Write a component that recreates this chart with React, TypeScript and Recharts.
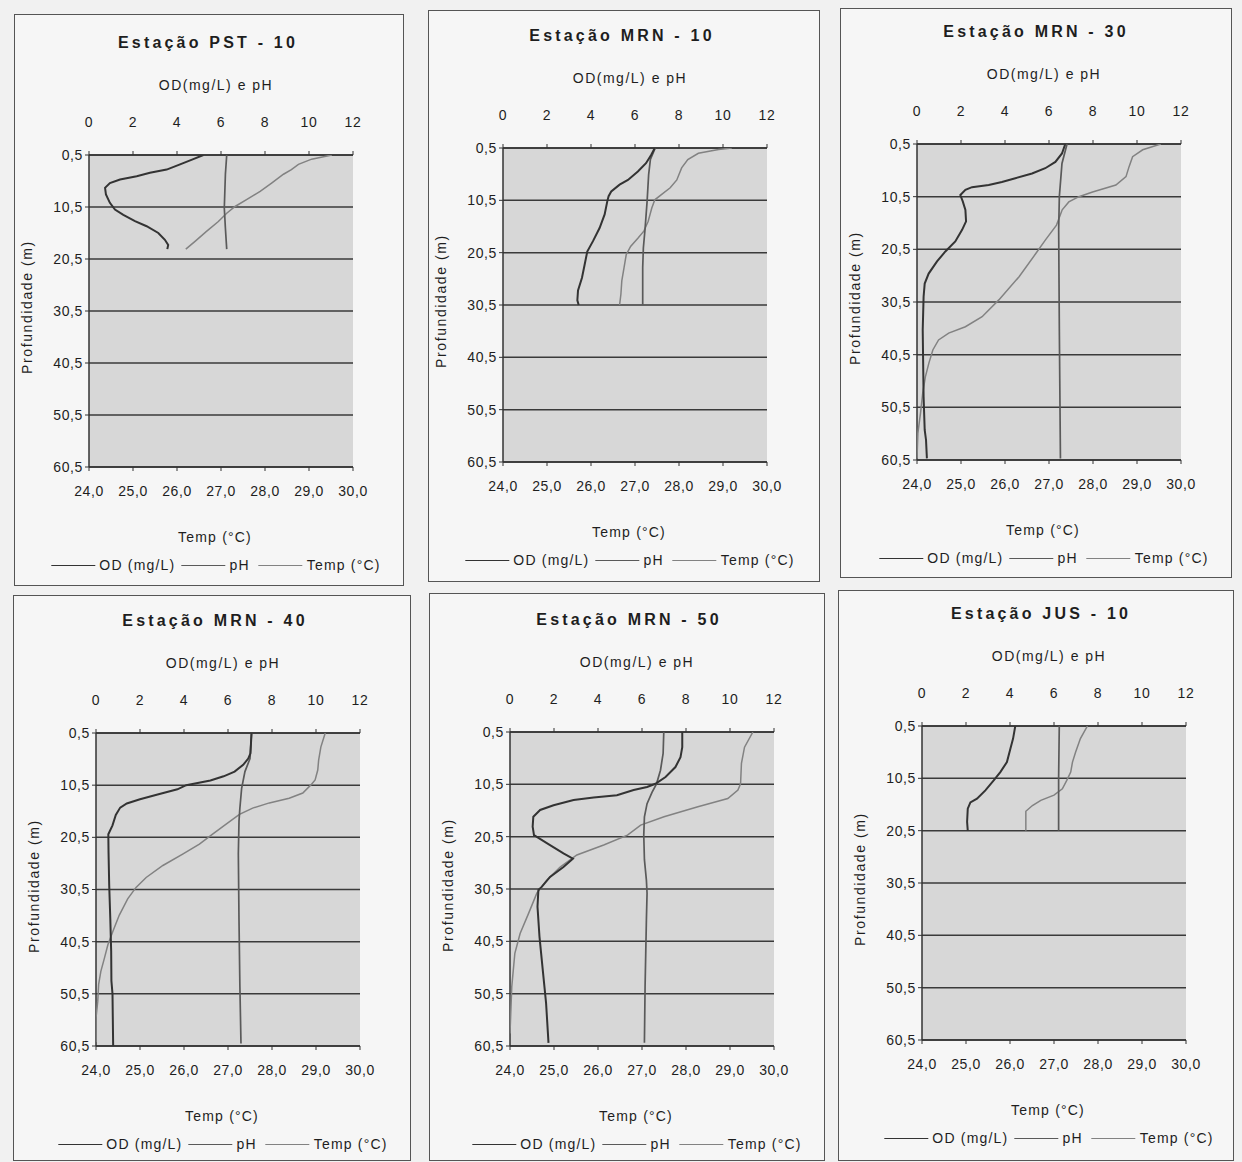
import React from 'react';
import { ScatterChart, Scatter, XAxis, YAxis, CartesianGrid } from 'recharts';

// ---------- tick labels / names ----------
const depthTicks = [0.5, 10.5, 20.5, 30.5, 40.5, 50.5, 60.5];
const odPhTicks = [0, 2, 4, 6, 8, 10, 12];
const tempTicks = [24, 25, 26, 27, 28, 29, 30];
const stationNames = [
  'Estação PST - 10',
  'Estação MRN - 10',
  'Estação MRN - 30',
  'Estação MRN - 40',
  'Estação MRN - 50',
  'Estação JUS - 10',
];
const seriesNames = ['OD (mg/L)', 'pH', 'Temp (°C)'];
const topAxisTitle = 'OD(mg/L) e pH';
const bottomAxisTitle = 'Temp (°C)';
const depthAxisTitle = 'Profundidade (m)';

// ---------- data: [depth (m), value] ----------
const pst10OD: [number, number][] = [
  [0.5, 5.2], [1.3, 4.74], [2.3, 4.14], [3.3, 3.53], [3.9, 2.77], [4.6, 2.17], [5.2, 1.41],
  [5.9, 0.95], [6.8, 0.73], [8.1, 0.77], [9.7, 0.95], [11.0, 1.18], [12.0, 1.56], [13.2, 2.09],
  [14.2, 2.62], [15.5, 3.15], [16.8, 3.45], [17.8, 3.6], [18.6, 3.56],
];
const pst10PH: [number, number][] = [
  [0.5, 6.26], [4.2, 6.2], [10.7, 6.15], [14.6, 6.2], [18.6, 6.26],
];
const pst10Temp: [number, number][] = [
  [0.5, 29.52], [1.3, 29.06], [2.3, 28.76], [3.3, 28.6], [4.2, 28.42], [5.9, 28.15], [7.5, 27.89],
  [9.1, 27.58], [10.4, 27.32], [11.7, 27.13], [13.3, 26.94], [15.2, 26.67], [17.1, 26.41], [18.6, 26.2],
];

const mrn10OD: [number, number][] = [
  [0.5, 6.9], [1.8, 6.74], [3.4, 6.5], [5.0, 6.13], [6.6, 5.68], [7.5, 5.3], [8.8, 4.92], [9.7, 4.8],
  [10.7, 4.74], [13.2, 4.62], [15.8, 4.39], [18.3, 4.09], [20.3, 3.83], [22.8, 3.71], [25.3, 3.59],
  [27.7, 3.41], [29.6, 3.38], [30.5, 3.44],
];
const mrn10PH: [number, number][] = [
  [0.5, 6.92], [2.7, 6.7], [5.6, 6.62], [10.7, 6.55], [15.8, 6.46], [19.6, 6.38], [23.4, 6.35], [30.5, 6.35],
];
const mrn10Temp: [number, number][] = [
  [0.5, 29.2], [0.8, 28.9], [1.5, 28.44], [2.7, 28.2], [4.3, 28.06], [6.6, 27.95], [8.1, 27.8],
  [9.4, 27.6], [10.4, 27.45], [12.0, 27.38], [14.5, 27.3], [16.4, 27.2], [17.7, 27.07], [19.3, 26.9],
  [20.9, 26.8], [23.4, 26.75], [25.9, 26.7], [28.4, 26.68], [30.5, 26.65],
];

const mrn30OD: [number, number][] = [
  [0.5, 6.74], [2.3, 6.59], [3.9, 6.29], [5.1, 5.83], [6.1, 5.23], [7.0, 4.47], [7.7, 3.86], [8.3, 3.26],
  [8.7, 2.5], [9.2, 2.2], [10.2, 1.97], [11.4, 2.08], [13.0, 2.2], [15.2, 2.23], [16.8, 2.05],
  [19.0, 1.74], [20.9, 1.29], [22.8, 0.91], [25.1, 0.53], [27.0, 0.35], [29.5, 0.3], [35.8, 0.26],
  [48.5, 0.3], [54.8, 0.35], [56.7, 0.41], [60.2, 0.45],
];
const mrn30PH: [number, number][] = [
  [0.5, 6.82], [4.2, 6.59], [10.5, 6.47], [16.8, 6.44], [35.8, 6.47], [60.2, 6.52],
];
const mrn30Temp: [number, number][] = [
  [0.5, 29.54], [1.6, 29.13], [2.9, 28.9], [4.8, 28.82], [6.7, 28.75], [8.3, 28.52], [9.6, 27.99],
  [10.5, 27.68], [11.5, 27.45], [13.0, 27.3], [15.9, 27.17], [18.7, 26.92], [21.3, 26.7], [25.7, 26.32],
  [30.1, 25.86], [33.3, 25.48], [35.2, 25.1], [36.4, 24.72], [37.7, 24.49], [39.6, 24.36], [42.1, 24.27],
  [44.7, 24.19], [47.8, 24.13], [51.6, 24.08], [55.4, 24.02], [60.2, 24.0],
];

const mrn40OD: [number, number][] = [
  [0.5, 7.07], [4.4, 7.02], [5.4, 6.92], [6.6, 6.69], [7.9, 6.3], [8.8, 5.8], [9.6, 5.2], [10.5, 4.1],
  [11.3, 3.7], [12.3, 2.8], [13.2, 2.0], [14.0, 1.4], [14.8, 1.1], [16.2, 0.9], [18.2, 0.75],
  [19.9, 0.56], [23.4, 0.57], [29.7, 0.6], [36.1, 0.65], [42.4, 0.69], [48.0, 0.7], [50.5, 0.75], [60.5, 0.78],
];
const mrn40PH: [number, number][] = [
  [0.5, 7.07], [2.6, 7.04], [5.4, 7.0], [7.9, 6.77], [11.1, 6.62], [14.9, 6.54], [17.4, 6.5],
  [23.7, 6.47], [36.4, 6.5], [49.0, 6.54], [60.0, 6.59],
];
const mrn40Temp: [number, number][] = [
  [0.5, 29.21], [3.2, 29.11], [5.7, 29.06], [7.6, 29.04], [9.5, 28.98], [10.4, 28.89], [12.0, 28.7],
  [13.0, 28.39], [13.9, 27.94], [14.9, 27.56], [16.1, 27.26], [18.0, 26.95], [19.9, 26.65], [21.8, 26.35],
  [23.7, 25.97], [25.9, 25.52], [28.2, 25.14], [30.1, 24.91], [32.3, 24.72], [35.4, 24.53], [38.6, 24.38],
  [41.1, 24.27], [43.7, 24.19], [46.2, 24.11], [48.7, 24.06], [51.9, 24.04], [55.1, 24.0], [59.8, 24.0],
];

const mrn50OD: [number, number][] = [
  [0.5, 7.83], [3.4, 7.83], [5.3, 7.75], [7.2, 7.52], [9.1, 7.07], [10.4, 6.61], [11.0, 6.23], [11.6, 5.62],
  [12.6, 4.86], [13.0, 3.8], [13.5, 2.89], [14.5, 1.98], [15.4, 1.37], [16.7, 1.06], [18.6, 1.03],
  [20.2, 1.09], [22.1, 1.82], [23.7, 2.43], [24.7, 2.86], [26.3, 2.43], [28.2, 1.82], [30.1, 1.44],
  [30.7, 1.29], [33.9, 1.25], [39.6, 1.34], [46.0, 1.49], [52.3, 1.64], [59.9, 1.75],
];
const mrn50PH: [number, number][] = [
  [0.5, 6.99], [4.6, 6.96], [7.8, 6.84], [10.4, 6.66], [12.0, 6.46], [14.2, 6.23], [16.7, 6.11],
  [20.2, 6.08], [24.9, 6.11], [28.8, 6.2], [31.3, 6.23], [36.4, 6.2], [42.8, 6.17], [49.2, 6.14], [59.9, 6.11],
];
const mrn50Temp: [number, number][] = [
  [0.5, 29.52], [3.4, 29.33], [6.5, 29.26], [10.4, 29.24], [11.6, 29.18], [13.2, 28.95], [14.8, 28.27],
  [16.7, 27.5], [18.3, 26.97], [20.2, 26.67], [22.1, 26.13], [24.0, 25.52], [26.3, 25.14], [28.8, 24.84],
  [31.3, 24.61], [35.2, 24.42], [39.0, 24.23], [42.8, 24.11], [49.2, 24.04], [58.1, 24.0],
];

const jus10OD: [number, number][] = [
  [0.5, 4.24], [2.9, 4.14], [4.8, 4.02], [7.4, 3.86], [9.3, 3.56], [10.9, 3.26], [12.8, 2.88],
  [14.4, 2.5], [15.1, 2.2], [16.3, 2.08], [18.8, 2.05], [20.5, 2.08],
];
const jus10PH: [number, number][] = [
  [0.5, 6.24], [10.5, 6.21], [20.5, 6.21],
];
const jus10Temp: [number, number][] = [
  [0.5, 27.76], [2.9, 27.6], [5.5, 27.49], [7.4, 27.42], [9.3, 27.38], [10.9, 27.29], [12.5, 27.19],
  [13.7, 27.0], [14.7, 26.7], [15.7, 26.51], [16.8, 26.36], [20.5, 26.36],
];

const stations = [
  { name: stationNames[0], od: pst10OD, ph: pst10PH, temp: pst10Temp },
  { name: stationNames[1], od: mrn10OD, ph: mrn10PH, temp: mrn10Temp },
  { name: stationNames[2], od: mrn30OD, ph: mrn30PH, temp: mrn30Temp },
  { name: stationNames[3], od: mrn40OD, ph: mrn40PH, temp: mrn40Temp },
  { name: stationNames[4], od: mrn50OD, ph: mrn50PH, temp: mrn50Temp },
  { name: stationNames[5], od: jus10OD, ph: jus10PH, temp: jus10Temp },
];

// ---------- layout (page pixels) ----------
const layouts = [
  { frame: { x: 14, y: 14, w: 390, h: 572 }, plot: { x: 89, y: 155, w: 264, h: 312 } },
  { frame: { x: 428, y: 10, w: 392, h: 572 }, plot: { x: 503, y: 148, w: 264, h: 314 } },
  { frame: { x: 840, y: 8, w: 392, h: 570 }, plot: { x: 917, y: 144, w: 264, h: 316 } },
  { frame: { x: 13, y: 595, w: 398, h: 566 }, plot: { x: 96, y: 733, w: 264, h: 313 } },
  { frame: { x: 429, y: 593, w: 396, h: 568 }, plot: { x: 510, y: 732, w: 264, h: 314 } },
  { frame: { x: 838, y: 590, w: 396, h: 571 }, plot: { x: 922, y: 726, w: 264, h: 314 } },
];

const FONT = '"Liberation Sans", Arial, Helvetica, sans-serif';
const TEXT = '#1e1e1e';
const COLORS = { od: '#333333', ph: '#5a5a5a', temp: '#828282' };
const WIDTHS = { od: 2, ph: 1.7, temp: 1.5 };

const fmt1 = (v: number) => v.toFixed(1).replace('.', ',');
const toPts = (arr: [number, number][]) => arr.map(([d, v]) => ({ d, v }));
const NoShape = () => <g />;

const tickStyle = { fill: TEXT, fontSize: 14, fontFamily: FONT, letterSpacing: 0.6 };

function Label({ cx, cy, children, style }: any) {
  return (
    <div
      style={{
        position: 'absolute',
        left: cx,
        top: cy,
        transform: 'translate(-50%, -50%)',
        whiteSpace: 'nowrap',
        color: TEXT,
        fontFamily: FONT,
        fontSize: 14,
        letterSpacing: 1.2,
        lineHeight: 1,
        ...style,
      }}
    >
      {children}
    </div>
  );
}

function LegendRow({ cx, cy }: { cx: number; cy: number }) {
  const seg = (color: string, w: number) => (
    <span style={{ display: 'inline-block', width: 44, height: 0, borderTop: `${w}px solid ${color}`, margin: '0 4px' }} />
  );
  return (
    <div
      style={{
        position: 'absolute',
        left: cx,
        top: cy,
        transform: 'translate(-50%, -50%)',
        whiteSpace: 'nowrap',
        display: 'flex',
        alignItems: 'center',
        color: TEXT,
        fontFamily: FONT,
        fontSize: 14,
        letterSpacing: 1.2,
        lineHeight: 1,
      }}
    >
      {seg(COLORS.od, 1.5)}
      <span style={{ marginRight: 2 }}>{seriesNames[0]}</span>
      {seg(COLORS.ph, 1.5)}
      <span style={{ marginRight: 5 }}>{seriesNames[1]}</span>
      {seg(COLORS.temp, 1.3)}
      <span>{seriesNames[2]}</span>
    </div>
  );
}

function Panel({ station, layout }: any) {
  const { frame, plot } = layout;
  const chartLeft = plot.x - 80;
  const chartTop = plot.y - 50;
  const chartW = plot.w + 110;
  const chartH = plot.h + 100;
  const bottom = plot.y + plot.h;
  return (
    <>
      <div
        style={{
          position: 'absolute',
          left: frame.x,
          top: frame.y,
          width: frame.w,
          height: frame.h,
          border: '1.5px solid #555',
          boxSizing: 'border-box',
          background: '#f6f6f6',
        }}
      />
      <Label cx={plot.x + 119} cy={plot.y - 112} style={{ fontWeight: 'bold', fontSize: 16, letterSpacing: 3.2 }}>
        {station.name}
      </Label>
      <Label cx={plot.x + 127} cy={plot.y - 70} style={{ letterSpacing: 1.5 }}>
        {topAxisTitle}
      </Label>
      <Label cx={plot.x + 126} cy={bottom + 70} style={{ letterSpacing: 1.2 }}>
        {bottomAxisTitle}
      </Label>
      <Label
        cx={plot.x - 62}
        cy={plot.y + plot.h / 2 - 4}
        style={{ transform: 'translate(-50%, -50%) rotate(-90deg)', letterSpacing: 1.6 }}
      >
        {depthAxisTitle}
      </Label>
      <LegendRow cx={plot.x + 125} cy={bottom + 98} />
      <div style={{ position: 'absolute', left: chartLeft, top: chartTop }}>
        <ScatterChart width={chartW} height={chartH} margin={{ top: 20, left: 20, right: 30, bottom: 20 }}>
          <CartesianGrid
            xAxisId="od"
            yAxisId="depth"
            vertical={false}
            horizontal={true}
            stroke="#3a3a3a"
            strokeWidth={1.5}
            fill="#d7d7d7"
            fillOpacity={1}
          />
          <XAxis
            xAxisId="od"
            orientation="top"
            type="number"
            dataKey="v"
            domain={[0, 12]}
            ticks={odPhTicks}
            interval={0}
            allowDataOverflow
            height={30}
            tickSize={4}
            tickMargin={24}
            axisLine={{ stroke: '#333', strokeWidth: 1.5 }}
            tickLine={{ stroke: '#333' }}
            tick={tickStyle}
          />
          <XAxis
            xAxisId="t"
            orientation="bottom"
            type="number"
            dataKey="v"
            domain={[24, 30]}
            ticks={tempTicks}
            interval={0}
            allowDataOverflow
            height={30}
            tickSize={4}
            tickMargin={15}
            tickFormatter={fmt1}
            axisLine={{ stroke: '#333', strokeWidth: 1.5 }}
            tickLine={{ stroke: '#333' }}
            tick={tickStyle}
          />
          <YAxis
            yAxisId="depth"
            type="number"
            dataKey="d"
            domain={[0.5, 60.5]}
            ticks={depthTicks}
            interval={0}
            reversed
            allowDataOverflow
            width={60}
            tickSize={4}
            tickMargin={2}
            tickFormatter={fmt1}
            axisLine={{ stroke: '#333', strokeWidth: 1.5 }}
            tickLine={{ stroke: '#333' }}
            tick={tickStyle}
          />
          <Scatter
            name={seriesNames[2]}
            data={toPts(station.temp)}
            xAxisId="t"
            yAxisId="depth"
            line={{ stroke: COLORS.temp, strokeWidth: WIDTHS.temp }}
            lineJointType="linear"
            shape={NoShape}
            isAnimationActive={false}
          />
          <Scatter
            name={seriesNames[1]}
            data={toPts(station.ph)}
            xAxisId="od"
            yAxisId="depth"
            line={{ stroke: COLORS.ph, strokeWidth: WIDTHS.ph }}
            lineJointType="linear"
            shape={NoShape}
            isAnimationActive={false}
          />
          <Scatter
            name={seriesNames[0]}
            data={toPts(station.od)}
            xAxisId="od"
            yAxisId="depth"
            line={{ stroke: COLORS.od, strokeWidth: WIDTHS.od }}
            lineJointType="linear"
            shape={NoShape}
            isAnimationActive={false}
          />
        </ScatterChart>
      </div>
    </>
  );
}

export default function App() {
  return (
    <div
      style={{
        position: 'absolute',
        left: 0,
        top: 0,
        width: 1242,
        height: 1162,
        background: '#f1f1f1',
        overflow: 'hidden',
        fontFamily: FONT,
      }}
    >
      {stations.map((s, i) => (
        <Panel key={s.name} station={s} layout={layouts[i]} />
      ))}
    </div>
  );
}
